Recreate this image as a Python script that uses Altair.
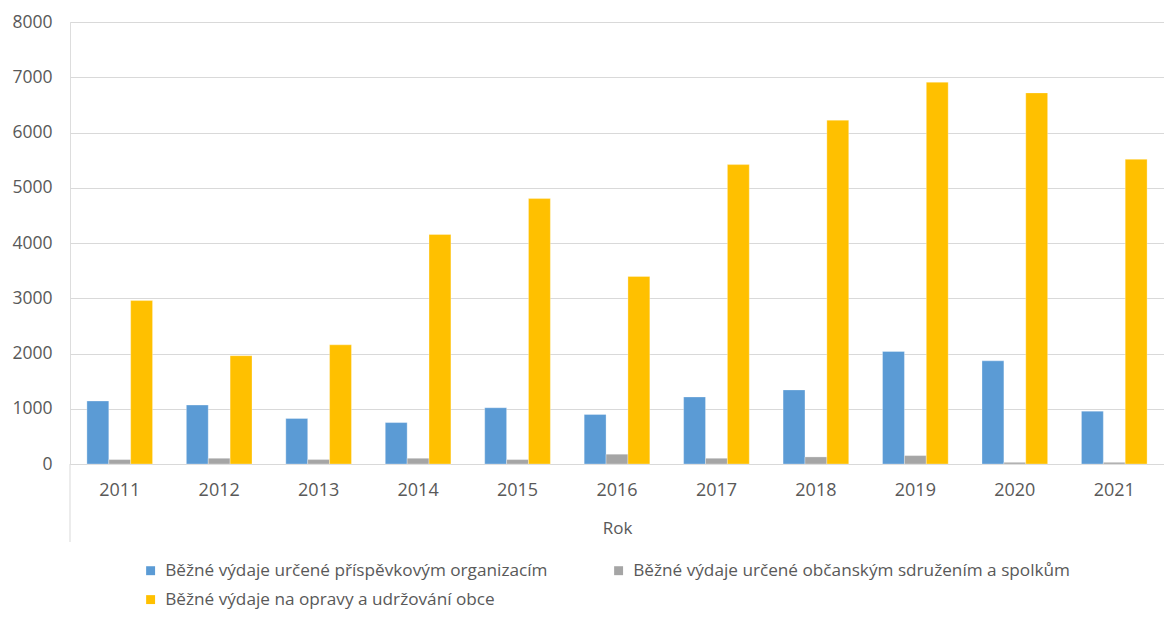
import altair as alt
import pandas as pd

years = ["2011", "2012", "2013", "2014", "2015", "2016", "2017", "2018", "2019", "2020", "2021"]
prispevkove = [1140, 1067, 823, 750, 1018, 896, 1213, 1341, 2036, 1867, 957]
obcanske = [80, 104, 80, 104, 80, 177, 104, 128, 152, 30, 30]
opravy = [2958, 1960, 2157, 4154, 4804, 3395, 5419, 6223, 6910, 6717, 5515]
series_names = [
    "Běžné výdaje určené příspěvkovým organizacím",
    "Běžné výdaje určené občanským sdružením a spolkům",
    "Běžné výdaje na opravy a udržování obce",
]
colors = ["#5B9BD5", "#A5A5A5", "#FFC000"]
y_ticks = [0, 1000, 2000, 3000, 4000, 5000, 6000, 7000, 8000]

rows = []
for name, vals in zip(series_names, [prispevkove, obcanske, opravy]):
    for yr, v in zip(years, vals):
        rows.append({"Rok": yr, "Série": name, "Hodnota": v})
df = pd.DataFrame(rows)

W = 1094
H = 442
FONT = "Open Sans"
TXT = "#595959"
GRID = "#D9D9D9"

bars = alt.Chart(df).mark_bar(stroke="white", strokeWidth=0.6, strokeOpacity=0.5).encode(
    x=alt.X(
        "Rok:N",
        sort=years,
        scale=alt.Scale(paddingInner=0.34, paddingOuter=0.17),
        axis=alt.Axis(
            title="Rok",
            labelAngle=0,
            ticks=False,
            grid=False,
            domainColor=GRID,
            domainWidth=1,
            labelPadding=17,
            titlePadding=21,
            labelFontSize=18,
            titleFontSize=17,
            labelColor=TXT,
            titleColor=TXT,
            titleFontWeight="normal",
            labelFont=FONT,
            titleFont=FONT,
        ),
    ),
    xOffset=alt.XOffset("Série:N", sort=series_names, scale=alt.Scale(paddingInner=0, paddingOuter=0)),
    y=alt.Y(
        "Hodnota:Q",
        scale=alt.Scale(domain=[0, 8000], nice=False),
        axis=alt.Axis(
            title=None,
            values=y_ticks,
            format="d",
            ticks=False,
            domain=False,
            grid=True,
            gridColor=GRID,
            gridWidth=1,
            labelPadding=18,
            minExtent=62,
            labelFontSize=17.5,
            labelColor=TXT,
            labelFont=FONT,
        ),
    ),
    color=alt.Color(
        "Série:N",
        sort=series_names,
        scale=alt.Scale(domain=series_names, range=colors),
        legend=alt.Legend(
            title=None,
            orient="none",
            legendX=72,
            legendY=540,
            direction="horizontal",
            columns=2,
            symbolType="square",
            symbolSize=80,
            symbolStrokeWidth=0,
            labelFontSize=17.2,
            labelFont=FONT,
            labelColor=TXT,
            labelLimit=0,
            labelOffset=6,
            columnPadding=62,
            rowPadding=11,
        ),
    ),
)

divider = alt.Chart(pd.DataFrame({"a": [0]})).mark_rule(color=GRID, strokeWidth=1).encode(
    x=alt.value(0), y=alt.value(H), y2=alt.value(H + 78)
)

chart = (
    alt.layer(bars, divider)
    .properties(width=W, height=H, padding={"left": 0, "top": 5, "right": 0, "bottom": 6})
    .configure_view(stroke=None)
    .configure(background="white")
)

chart.save("out.html", embed_options={"renderer": "svg", "actions": False})
